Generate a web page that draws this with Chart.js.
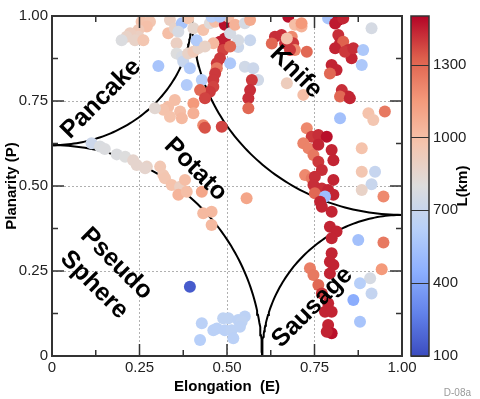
<!DOCTYPE html>
<html>
<head>
<meta charset="utf-8">
<script src="https://cdn.jsdelivr.net/npm/chart.js@4.4.1/dist/chart.umd.min.js"></script>
<style>
html,body{margin:0;padding:0;background:#fff}
#wrap{width:480px;height:399px;position:relative}
</style>
</head>
<body>
<div id="wrap"><canvas id="shapeChart"></canvas></div>
<script>
// tick values and labels
var axisTicks = [0, 0.25, 0.5, 0.75, 1];
var xTickLabels = ['0', '0.25', '0.50', '0.75', '1.00'];
var yTickLabels = ['0', '0.25', '0.50', '0.75', '1.00'];
var cbTicks = [100, 400, 700, 1000, 1300];
var cbMin = 100, cbMax = 1500;

// the objects: elongation E, planarity P, length L (km)
var elongation = [
 0.256,0.280,0.271,0.337,0.332,0.351,0.371,0.361,0.389,0.404,
 0.247,0.247,0.223,0.213,0.199,0.237,0.261,0.304,0.356,0.356,
 0.371,0.375,0.389,0.404,0.418,0.394,0.385,0.428,0.413,0.432,
 0.451,0.466,0.489,0.456,0.494,0.480,0.461,0.437,0.494,0.489,
 0.480,0.471,0.471,0.466,0.461,0.461,0.451,0.423,0.437,0.404,
 0.351,0.332,0.318,0.294,0.366,0.371,0.404,0.337,0.432,0.437,
 0.485,0.504,0.509,0.509,0.532,0.523,0.551,0.532,0.566,0.509,
 0.551,0.575,0.589,0.571,0.566,0.561,0.561,0.566,0.675,0.694,
 0.713,0.713,0.637,0.628,0.656,0.666,0.685,0.689,0.694,0.680,
 0.728,0.671,0.671,0.718,0.728,0.789,0.818,0.809,0.832,0.913,
 0.818,0.823,0.832,0.809,0.847,0.856,0.837,0.861,0.889,0.885,
 0.799,0.813,0.794,0.828,0.847,0.823,0.851,0.904,0.918,0.951,
 0.823,0.480,0.742,0.761,0.785,0.718,0.733,0.747,0.761,0.799,
 0.804,0.761,0.771,0.723,0.742,0.751,0.747,0.804,0.771,0.789,
 0.804,0.751,0.780,0.766,0.771,0.799,0.794,0.813,0.799,0.799,
 0.794,0.804,0.794,0.737,0.747,0.761,0.771,0.789,0.780,0.799,
 0.789,0.799,0.785,0.885,0.885,0.923,0.913,0.885,0.947,0.875,
 0.947,0.942,0.909,0.880,0.913,0.861,0.880,0.556,0.113,0.137,
 0.151,0.185,0.209,0.232,0.242,0.271,0.266,0.309,0.318,0.323,
 0.342,0.366,0.380,0.361,0.385,0.428,0.432,0.456,0.456,0.394,
 0.428,0.423,0.461,0.471,0.489,0.504,0.532,0.551,0.542,0.494,
 0.513,0.518,0.537
];
var planarity = [
 0.983,0.983,0.969,0.988,0.949,0.964,0.979,0.954,0.993,0.964,
 0.959,0.939,0.949,0.939,0.929,0.929,0.929,0.853,0.920,0.890,
 0.880,0.866,0.890,0.895,0.905,0.846,0.797,0.812,0.929,0.959,
 0.979,0.983,0.998,0.998,0.974,0.924,0.920,0.910,0.934,0.900,
 0.876,0.861,0.846,0.831,0.812,0.792,0.777,0.782,0.758,0.743,
 0.753,0.733,0.724,0.729,0.719,0.699,0.714,0.704,0.679,0.671,
 0.674,0.998,0.949,0.861,0.909,0.974,0.979,0.929,0.929,0.910,
 0.851,0.846,0.812,0.812,0.782,0.758,0.729,0.988,0.998,0.974,
 0.969,0.979,0.939,0.919,0.944,0.920,0.939,0.920,0.900,0.900,
 0.895,0.934,0.802,0.768,0.670,0.993,0.988,0.978,0.993,0.964,
 0.944,0.920,0.924,0.905,0.900,0.876,0.895,0.905,0.900,0.856,
 0.856,0.841,0.831,0.782,0.763,0.763,0.758,0.714,0.694,0.719,
 0.699,0.998,0.645,0.650,0.645,0.626,0.611,0.591,0.621,0.606,
 0.576,0.571,0.547,0.532,0.523,0.527,0.503,0.518,0.493,0.488,
 0.474,0.479,0.469,0.454,0.439,0.424,0.380,0.366,0.346,0.302,
 0.277,0.268,0.243,0.258,0.238,0.209,0.184,0.155,0.130,0.130,
 0.091,0.067,0.071,0.611,0.542,0.542,0.505,0.488,0.469,0.341,
 0.334,0.255,0.229,0.214,0.184,0.165,0.101,0.464,0.626,0.616,
 0.609,0.593,0.586,0.576,0.562,0.557,0.552,0.557,0.532,0.523,
 0.503,0.498,0.518,0.474,0.483,0.483,0.420,0.424,0.385,0.204,
 0.096,0.047,0.076,0.081,0.111,0.111,0.106,0.116,0.101,0.076,
 0.076,0.052,0.086
];
var lengthKm = [
 980,960,990,900,1000,880,560,760,970,850,
 940,900,910,880,790,880,960,560,900,800,
 770,700,880,940,880,600,600,620,600,980,
 820,1000,1080,620,1480,1450,1020,880,1450,1380,
 1400,1400,1250,1400,1400,1380,1400,1300,1380,1150,
 1000,1000,980,840,1000,1020,1060,980,1200,1350,
 1380,1000,760,580,720,1050,760,760,700,1300,
 740,720,740,1400,1420,1420,1300,1080,1480,1000,
 1050,1150,1420,1300,1420,1420,1200,1400,1200,1400,
 1300,980,920,1000,1200,560,1480,1460,1440,760,
 1420,1440,1320,1440,1420,1440,1400,1420,580,580,
 1440,1440,1300,1420,1440,1300,1440,980,960,1250,
 540,600,1400,1420,1480,1220,1220,1250,1440,1440,
 1440,1400,1420,1200,1250,1420,1420,1440,1420,1440,
 1440,1300,520,1440,1440,1440,1440,1440,1440,1440,
 1440,1440,1440,1230,1250,1300,1400,1440,1440,1440,
 1440,1480,1440,980,960,690,700,880,1200,540,
 1250,1150,760,620,680,440,560,1100,720,780,
 790,790,800,860,860,880,860,950,950,960,
 980,900,1000,1040,1000,1100,1020,1020,1020,150,
 640,620,640,640,660,660,650,650,660,640,
 650,640,650
];

// class boundaries: quarter ellipses around the four corners
var arcCentres = [[0, 1], [1, 1], [1, 0], [0, 0]];
var arcRadiusE = [0.40, 0.60, 0.40, 0.60];
var arcRadiusP = [0.38, 0.585, 0.415, 0.62];

// class names
var regionNames = ['Pancake', 'Knife', 'Potato', 'Pseudo', 'Sphere', 'Sausage'];
var regionAt = [[0.14, 0.756, -45], [0.697, 0.835, 45], [0.41, 0.549, 45],
                [0.184, 0.271, 45], [0.12, 0.209, 45], [0.744, 0.143, -45]];

var narrow = '"Liberation Sans Narrow", "Liberation Sans", Arial, sans-serif';
var cwStops = [[59,76,192],[98,130,234],[141,176,254],[184,208,249],[221,221,221],
               [245,196,173],[244,154,123],[222,96,77],[180,4,38]];

function coolwarm(v) {
  var t = (v - cbMin) / (cbMax - cbMin);
  t = Math.max(0, Math.min(1, t)) * (cwStops.length - 1);
  var i = Math.min(Math.floor(t), cwStops.length - 2), f = t - i;
  var a = cwStops[i], b = cwStops[i + 1];
  return 'rgb(' + Math.round(a[0] + (b[0] - a[0]) * f) + ',' +
    Math.round(a[1] + (b[1] - a[1]) * f) + ',' + Math.round(a[2] + (b[2] - a[2]) * f) + ')';
}

var arcSets = arcCentres.map(function (c, k) {
  var pts = [];
  var sx = c[0] === 0 ? 1 : -1, sy = c[1] === 0 ? 1 : -1;
  for (var j = 0; j <= 80; j++) {
    var t = j / 80 * Math.PI / 2;
    pts.push({x: c[0] + sx * arcRadiusE[k] * Math.cos(t), y: c[1] + sy * arcRadiusP[k] * Math.sin(t)});
  }
  return {data: pts, showLine: true, borderColor: '#000', borderWidth: 2,
          pointRadius: 0, tension: 0, order: 2};
});

var points = elongation.map(function (e, i) { return {x: e, y: planarity[i]}; });

var decor = {
  id: 'decor',
  afterDatasetsDraw: function (chart) {
    var ctx = chart.ctx, a = chart.chartArea;
    var xs = chart.scales.x, ys = chart.scales.y, cs = chart.scales.cb;
    ctx.save();
    // region names
    ctx.fillStyle = '#000';
    ctx.font = 'bold 25px "Liberation Sans", Arial, sans-serif';
    ctx.textAlign = 'center';
    ctx.textBaseline = 'middle';
    regionNames.forEach(function (n, i) {
      var r = regionAt[i];
      ctx.save();
      ctx.translate(xs.getPixelForValue(r[0]), ys.getPixelForValue(r[1]));
      ctx.rotate(r[2] * Math.PI / 180);
      ctx.fillText(n, 0, 0);
      ctx.restore();
    });
    // frame
    ctx.strokeStyle = '#333';
    ctx.lineWidth = 2;
    ctx.strokeRect(a.left, a.top, a.right - a.left, a.bottom - a.top);
    // inward ticks
    ctx.lineWidth = 1.5;
    ctx.beginPath();
    for (var k = 1; k < 8; k++) {
      var v = k / 8, len = k % 2 === 0 ? 12 : 6;
      var px = xs.getPixelForValue(v), py = ys.getPixelForValue(v);
      ctx.moveTo(px, a.bottom); ctx.lineTo(px, a.bottom - len);
      ctx.moveTo(px, a.top); ctx.lineTo(px, a.top + len);
      ctx.moveTo(a.left, py); ctx.lineTo(a.left + len, py);
      ctx.moveTo(a.right, py); ctx.lineTo(a.right - len, py);
    }
    ctx.stroke();
    // colour bar
    var bx = cs.left + 9, bw = 18;
    var g = ctx.createLinearGradient(0, cs.bottom, 0, cs.top);
    for (var s = 0; s <= 40; s++) {
      g.addColorStop(s / 40, coolwarm(cbMin + (cbMax - cbMin) * s / 40));
    }
    ctx.fillStyle = g;
    ctx.fillRect(bx, cs.top, bw, cs.bottom - cs.top);
    ctx.strokeStyle = '#333';
    ctx.lineWidth = 1;
    ctx.beginPath();
    cbTicks.forEach(function (t) {
      var y = Math.round(cs.getPixelForValue(t)) + 0.5;
      ctx.moveTo(bx, y); ctx.lineTo(bx + bw, y);
    });
    ctx.stroke();
    ctx.lineWidth = 1.5;
    ctx.strokeRect(bx, cs.top, bw, cs.bottom - cs.top);
    // colour bar title
    ctx.fillStyle = '#000';
    ctx.font = 'bold 15px ' + narrow;
    ctx.save();
    ctx.translate(463, (cs.top + cs.bottom) / 2);
    ctx.rotate(-Math.PI / 2);
    ctx.fillText('L(km)', 0, 0);
    ctx.restore();
    // figure id
    ctx.fillStyle = '#9a9a9a';
    ctx.font = '10px ' + narrow;
    ctx.textAlign = 'right';
    ctx.textBaseline = 'alphabetic';
    ctx.fillText('D-08a', 471, 396);
    ctx.restore();
  }
};

function gridColour(c) {
  var v = c.tick ? c.tick.value : 0;
  return (v > 0 && v < 1) ? '#b0b0b0' : 'rgba(0,0,0,0)';
}

new Chart(document.getElementById('shapeChart'), {
  type: 'scatter',
  data: {
    datasets: [{
      data: points,
      backgroundColor: lengthKm.map(coolwarm),
      borderWidth: 0,
      pointRadius: 6,
      pointHoverRadius: 6,
      order: 1
    }].concat(arcSets)
  },
  options: {
    responsive: true,
    maintainAspectRatio: false,
    animation: false,
    devicePixelRatio: 1,
    layout: {padding: {top: 16, left: 0, right: 0, bottom: 0}},
    plugins: {legend: {display: false}, tooltip: {enabled: false}},
    scales: {
      x: {
        type: 'linear', min: 0, max: 1,
        afterBuildTicks: function (s) { s.ticks = axisTicks.map(function (v) { return {value: v}; }); },
        afterFit: function (s) { s.height = 43; s.paddingLeft = 0; s.paddingRight = 0; },
        ticks: {
          callback: function (v, i) { return xTickLabels[i]; },
          font: {family: narrow, size: 15}, color: '#222', padding: 3,
          autoSkip: false, maxRotation: 0
        },
        grid: {color: gridColour, drawTicks: false, lineWidth: 1},
        border: {display: false, dash: [2, 2]},
        title: {display: true, text: 'Elongation  (E)', color: '#000',
                font: {family: narrow, size: 15, weight: 'bold'}, padding: {top: 0, bottom: 3}}
      },
      y: {
        type: 'linear', min: 0, max: 1,
        afterBuildTicks: function (s) { s.ticks = axisTicks.map(function (v) { return {value: v}; }); },
        afterFit: function (s) { s.width = 52; s.paddingTop = 0; s.paddingBottom = 0; },
        ticks: {
          callback: function (v, i) { return yTickLabels[i]; },
          font: {family: narrow, size: 15}, color: '#222', padding: 4, autoSkip: false
        },
        grid: {color: gridColour, drawTicks: false, lineWidth: 1},
        border: {display: false, dash: [2, 2]},
        title: {display: true, text: 'Planarity (P)', color: '#000',
                font: {family: narrow, size: 15, weight: 'bold'}, padding: {top: 3, bottom: 0}}
      },
      cb: {
        type: 'linear', axis: 'y', position: 'right', min: cbMin, max: cbMax,
        afterBuildTicks: function (s) { s.ticks = cbTicks.map(function (v) { return {value: v}; }); },
        afterFit: function (s) { s.width = 78; s.paddingTop = 0; s.paddingBottom = 0; },
        ticks: {font: {family: narrow, size: 15}, color: '#222', padding: 31,
                callback: function (v) { return String(v); }},
        grid: {display: false, drawTicks: false},
        border: {display: false}
      }
    }
  },
  plugins: [decor]
});
</script>
</body>
</html>
